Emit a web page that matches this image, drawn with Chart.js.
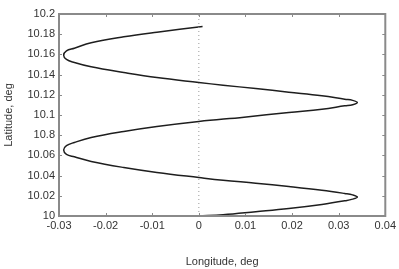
<!DOCTYPE html>
<html>
<head>
<meta charset="utf-8">
<script src="https://cdn.jsdelivr.net/npm/chart.js@4/dist/chart.umd.min.js"></script>
<style>
  html, body { margin: 0; padding: 0; background: #fff; }
  #wrap { width: 399px; height: 269px; }
</style>
</head>
<body>
<div id="wrap"><canvas id="grafica"></canvas></div>
<script>
// track points (longitude, latitude in deg)
const lon = [0, 0.0052, 0.0122, 0.0193, 0.0264, 0.0313, 0.0330, 0.0340, 0.0330, 0.0313, 0.0264, 0.0193, 0.0122, 0.0052,
  0, -0.0090, -0.0161, -0.0231, -0.0267, -0.0284, -0.0290, -0.0284, -0.0267, -0.0231, -0.0161, -0.0090, 0,
  0.0097, 0.0193, 0.0264, 0.0313, 0.0330, 0.0340, 0.0330, 0.0313, 0.0264, 0.0193, 0.0122, 0.0052,
  0, -0.0090, -0.0161, -0.0231, -0.0267, -0.0284, -0.0290, -0.0284, -0.0267, -0.0231, -0.0161, -0.0090, 0.0008];
const lat = [10.0, 10.0012, 10.0042, 10.0074, 10.0114, 10.0150, 10.0167, 10.0188, 10.0209, 10.0223, 10.0255, 10.0292, 10.0325, 10.0354,
  10.0381, 10.0431, 10.0480, 10.0540, 10.0586, 10.0611, 10.0653, 10.0696, 10.0728, 10.0777, 10.0837, 10.0886, 10.0936,
  10.0978, 10.1025, 10.1057, 10.1091, 10.1102, 10.1124, 10.1145, 10.1156, 10.1190, 10.1226, 10.1262, 10.1295,
  10.1322, 10.1371, 10.1421, 10.1477, 10.1520, 10.1550, 10.1592, 10.1636, 10.1661, 10.1715, 10.1774, 10.1820, 10.1876];

const xTicks = [-0.03, -0.02, -0.01, 0, 0.01, 0.02, 0.03, 0.04];
const xTickLabels = ['-0.03', '-0.02', '-0.01', '0', '0.01', '0.02', '0.03', '0.04'];
const yTicks = [10, 10.02, 10.04, 10.06, 10.08, 10.1, 10.12, 10.14, 10.16, 10.18, 10.2];
const yTickLabels = ['10', '10.02', '10.04', '10.06', '10.8', '10.1', '10.12', '10.14', '10.16', '10.18', '10.2'];

const graph = document.querySelector("#grafica");
const font = { family: "'Liberation Sans', Arial, sans-serif", size: 11 };

// frame and small inward ticks round the plot
const frame = {
  id: 'frame',
  afterDatasetsDraw(chart) {
    const { ctx, chartArea: a, scales } = chart;
    ctx.save();
    ctx.strokeStyle = '#8a8a8a';
    ctx.lineWidth = 1;
    ctx.beginPath();
    xTicks.forEach(v => {
      const px = Math.round(scales.x.getPixelForValue(v)) + 0.5;
      ctx.moveTo(px, a.top); ctx.lineTo(px, a.top + 3);
      ctx.moveTo(px, a.bottom); ctx.lineTo(px, a.bottom - 3);
    });
    yTicks.forEach(v => {
      const py = Math.round(scales.y.getPixelForValue(v)) + 0.5;
      ctx.moveTo(a.left, py); ctx.lineTo(a.left + 3, py);
      ctx.moveTo(a.right, py); ctx.lineTo(a.right - 3, py);
    });
    ctx.stroke();
    ctx.lineWidth = 2;
    ctx.strokeRect(a.left, a.top, a.right - a.left, a.bottom - a.top);
    ctx.restore();
  }
};

const data = {
  datasets: [{
    label: 'zero',
    data: [{ x: 0, y: 10 }, { x: 0, y: 10.2 }],
    showLine: true,
    borderColor: '#9a9a9a',
    borderWidth: 1,
    borderDash: [1, 3],
    pointRadius: 0
  }, {
    label: 'track',
    data: lon.map((v, i) => ({ x: v, y: lat[i] })),
    showLine: true,
    borderColor: '#1e1e1e',
    borderWidth: 1.5,
    tension: 0.4,
    pointRadius: 0
  }]
};

const config = {
  type: 'scatter',
  data: data,
  options: {
    responsive: true,
    maintainAspectRatio: false,
    animation: false,
    layout: { padding: { top: 14, right: 10, left: 0, bottom: 0 } },
    plugins: { legend: { display: false }, tooltip: { enabled: false } },
    scales: {
      x: {
        type: 'linear', min: -0.03, max: 0.04,
        afterBuildTicks: s => { s.ticks = xTicks.map(v => ({ value: v })); },
        afterFit: s => { s.height = 53; },
        grid: { display: false, drawTicks: false },
        border: { display: false },
        ticks: {
          color: '#333', font: font, padding: 3, maxRotation: 0,
          callback: v => xTickLabels[xTicks.findIndex(t => Math.abs(t - v) < 1e-9)]
        },
        title: { display: true, text: 'Longitude, deg', color: '#333', font: font, padding: { top: 4, bottom: 0 } }
      },
      y: {
        type: 'linear', min: 10, max: 10.2,
        afterBuildTicks: s => { s.ticks = yTicks.map(v => ({ value: v })); },
        afterFit: s => { s.width = 59; },
        grid: { display: false, drawTicks: false },
        border: { display: false },
        ticks: {
          color: '#333', font: font, padding: 4,
          callback: v => yTickLabels[yTicks.findIndex(t => Math.abs(t - v) < 1e-9)]
        },
        title: { display: true, text: 'Latitude, deg', color: '#333', font: font, padding: { top: 2, bottom: 4 } }
      }
    }
  },
  plugins: [frame]
};
new Chart(graph, config);
</script>
</body>
</html>
